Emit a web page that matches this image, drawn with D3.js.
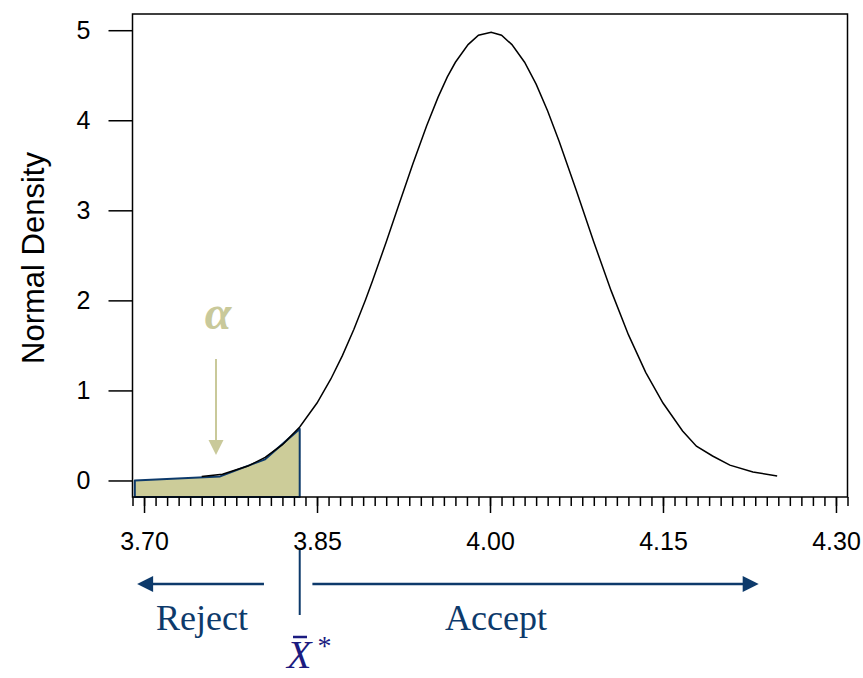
<!DOCTYPE html>
<html>
<head>
<meta charset="utf-8">
<script src="https://cdn.jsdelivr.net/npm/d3@7"></script>
<style>
  body { margin: 0; background: #fff; }
</style>
</head>
<body>
<script>
// density curve points
var curveX = [3.75, 3.768, 3.79, 3.805, 3.82, 3.835, 3.85, 3.862, 3.872, 3.882, 3.892, 3.898,
  3.91, 3.92, 3.933, 3.945, 3.955, 3.963, 3.97, 3.981, 3.99, 4.001, 4.01, 4.019, 4.03,
  4.04, 4.05, 4.06, 4.075, 4.09, 4.105, 4.12, 4.135, 4.15, 4.167, 4.179, 4.193, 4.208, 4.228, 4.249];
var curveY = [0.045, 0.07, 0.16, 0.256, 0.397, 0.594, 0.86, 1.127, 1.386, 1.68, 2.005, 2.212,
  2.648, 3.025, 3.512, 3.937, 4.257, 4.481, 4.644, 4.84, 4.944, 4.978, 4.944, 4.84, 4.644,
  4.401, 4.102, 3.764, 3.214, 2.648, 2.108, 1.619, 1.201, 0.86, 0.55, 0.38, 0.272, 0.17, 0.095, 0.05];

// shaded rejection region (alpha)
var alphaX = [3.692, 3.766, 3.805, 3.835];
var alphaY = [0.0, 0.045, 0.235, 0.573];
var criticalX = 3.835;

var xMajor = [3.70, 3.85, 4.00, 4.15, 4.30];
var yTicks = [0, 1, 2, 3, 4, 5];

var margin = { top: 14, right: 16, bottom: 181, left: 132.5 },
    width = 847.5 - margin.left,
    height = 497 - margin.top;

var svg = d3.select("body").append("svg")
    .attr("width", 863)
    .attr("height", 678);

var x = d3.scaleLinear().domain([3.69, 4.31]).range([margin.left, 847.5]);
var y = d3.scaleLinear().domain([-0.1835, 5.18]).range([497, margin.top]);

// shaded area
var poly = alphaX.map(function(d, i) { return [x(d), y(alphaY[i])]; });
poly.push([x(criticalX), y(-0.1835)]);
poly.push([x(alphaX[0]), y(-0.1835)]);
svg.append("polygon")
    .attr("points", poly.map(function(p) { return p.join(","); }).join(" "))
    .attr("fill", "#cccc99")
    .attr("stroke", "#0d3a6b")
    .attr("stroke-width", 2)
    .attr("stroke-linejoin", "round");

// density curve
var pts = curveX.map(function(d, i) { return [d, curveY[i]]; });
svg.append("path")
    .datum(pts)
    .attr("fill", "none")
    .attr("stroke", "#000")
    .attr("stroke-width", 1.5)
    .attr("d", d3.line()
        .x(function(d) { return x(d[0]); })
        .y(function(d) { return y(d[1]); }));

// frame
svg.append("rect")
    .attr("x", margin.left).attr("y", margin.top)
    .attr("width", width).attr("height", height)
    .attr("fill", "none").attr("stroke", "#000").attr("stroke-width", 1.5);

// x axis: minor ticks every 0.01, labelled majors
var xMinor = d3.range(369, 432).map(function(d) { return d / 100; });
svg.append("g")
    .attr("transform", "translate(0,497)")
    .call(d3.axisBottom(x).tickValues(xMinor).tickSize(9).tickFormat(""))
    .call(function(g) { g.select(".domain").remove(); })
    .selectAll("line").attr("stroke-width", 1.5);
svg.append("g")
    .attr("transform", "translate(0,497)")
    .call(d3.axisBottom(x).tickValues(xMajor).tickSize(16).tickPadding(19).tickFormat(d3.format(".2f")))
    .call(function(g) { g.select(".domain").remove(); })
    .call(function(g) {
        g.selectAll("line").attr("stroke-width", 1.5);
        g.selectAll("text").attr("font-size", "25px").attr("font-family", "Liberation Sans, Arial, sans-serif").attr("fill", "#000");
    });

// y axis
svg.append("g")
    .attr("transform", "translate(" + margin.left + ",0)")
    .call(d3.axisLeft(y).tickValues(yTicks).tickSize(24).tickPadding(18).tickFormat(d3.format("d")))
    .call(function(g) { g.select(".domain").remove(); })
    .call(function(g) {
        g.selectAll("line").attr("stroke-width", 1.5);
        g.selectAll("text").attr("font-size", "25px").attr("font-family", "Liberation Sans, Arial, sans-serif").attr("fill", "#000");
    });

svg.append("text")
    .attr("transform", "translate(44,258) rotate(-90)")
    .attr("text-anchor", "middle")
    .style("font-family", "Liberation Sans, Arial, sans-serif")
    .style("font-size", "31px")
    .text("Normal Density");

// alpha label and arrow
var olive = "#c9c99a";
svg.append("text")
    .attr("x", 218).attr("y", 329)
    .attr("text-anchor", "middle")
    .style("font-family", "Liberation Serif, Times New Roman, serif")
    .style("font-style", "italic")
    .style("font-weight", "bold")
    .style("font-size", "48px")
    .attr("fill", olive)
    .text("α");
svg.append("line")
    .attr("x1", 216).attr("x2", 216).attr("y1", 359).attr("y2", 442)
    .attr("stroke", olive).attr("stroke-width", 2);
svg.append("path")
    .attr("d", "M208.5,440 L223.5,440 L216,455 Z")
    .attr("fill", olive);

// reject / accept arrows
var navy = "#0d3a6b";
var ay = 584;
svg.append("line")
    .attr("x1", x(3.804)).attr("x2", x(3.694) + 14).attr("y1", ay).attr("y2", ay)
    .attr("stroke", navy).attr("stroke-width", 2.5);
svg.append("path")
    .attr("d", "M" + x(3.694) + "," + ay + " l16,-8 l0,16 Z")
    .attr("fill", navy);
svg.append("line")
    .attr("x1", x(3.846)).attr("x2", x(4.233) - 14).attr("y1", ay).attr("y2", ay)
    .attr("stroke", navy).attr("stroke-width", 2.5);
svg.append("path")
    .attr("d", "M" + x(4.233) + "," + ay + " l-16,-8 l0,16 Z")
    .attr("fill", navy);
svg.append("line")
    .attr("x1", x(criticalX)).attr("x2", x(criticalX)).attr("y1", 550).attr("y2", 615)
    .attr("stroke", navy).attr("stroke-width", 2);

svg.append("text")
    .attr("x", 156).attr("y", 630)
    .style("font-family", "Liberation Serif, Times New Roman, serif")
    .style("font-size", "36px")
    .attr("fill", navy)
    .text("Reject");
svg.append("text")
    .attr("x", 445).attr("y", 630)
    .style("font-family", "Liberation Serif, Times New Roman, serif")
    .style("font-size", "36px")
    .attr("fill", navy)
    .text("Accept");

// X-bar star
var xs = svg.append("text")
    .attr("x", 287).attr("y", 668)
    .style("font-family", "Liberation Serif, Times New Roman, serif")
    .style("font-size", "40px")
    .attr("fill", "#1b1b80");
xs.append("tspan").style("font-style", "italic").text("X");
xs.append("tspan").attr("dx", 6).attr("dy", -13).style("font-size", "28px").text("*");
svg.append("line")
    .attr("x1", 293).attr("x2", 307).attr("y1", 637).attr("y2", 637)
    .attr("stroke", "#1b1b80").attr("stroke-width", 2.5);
</script>
</body>
</html>
